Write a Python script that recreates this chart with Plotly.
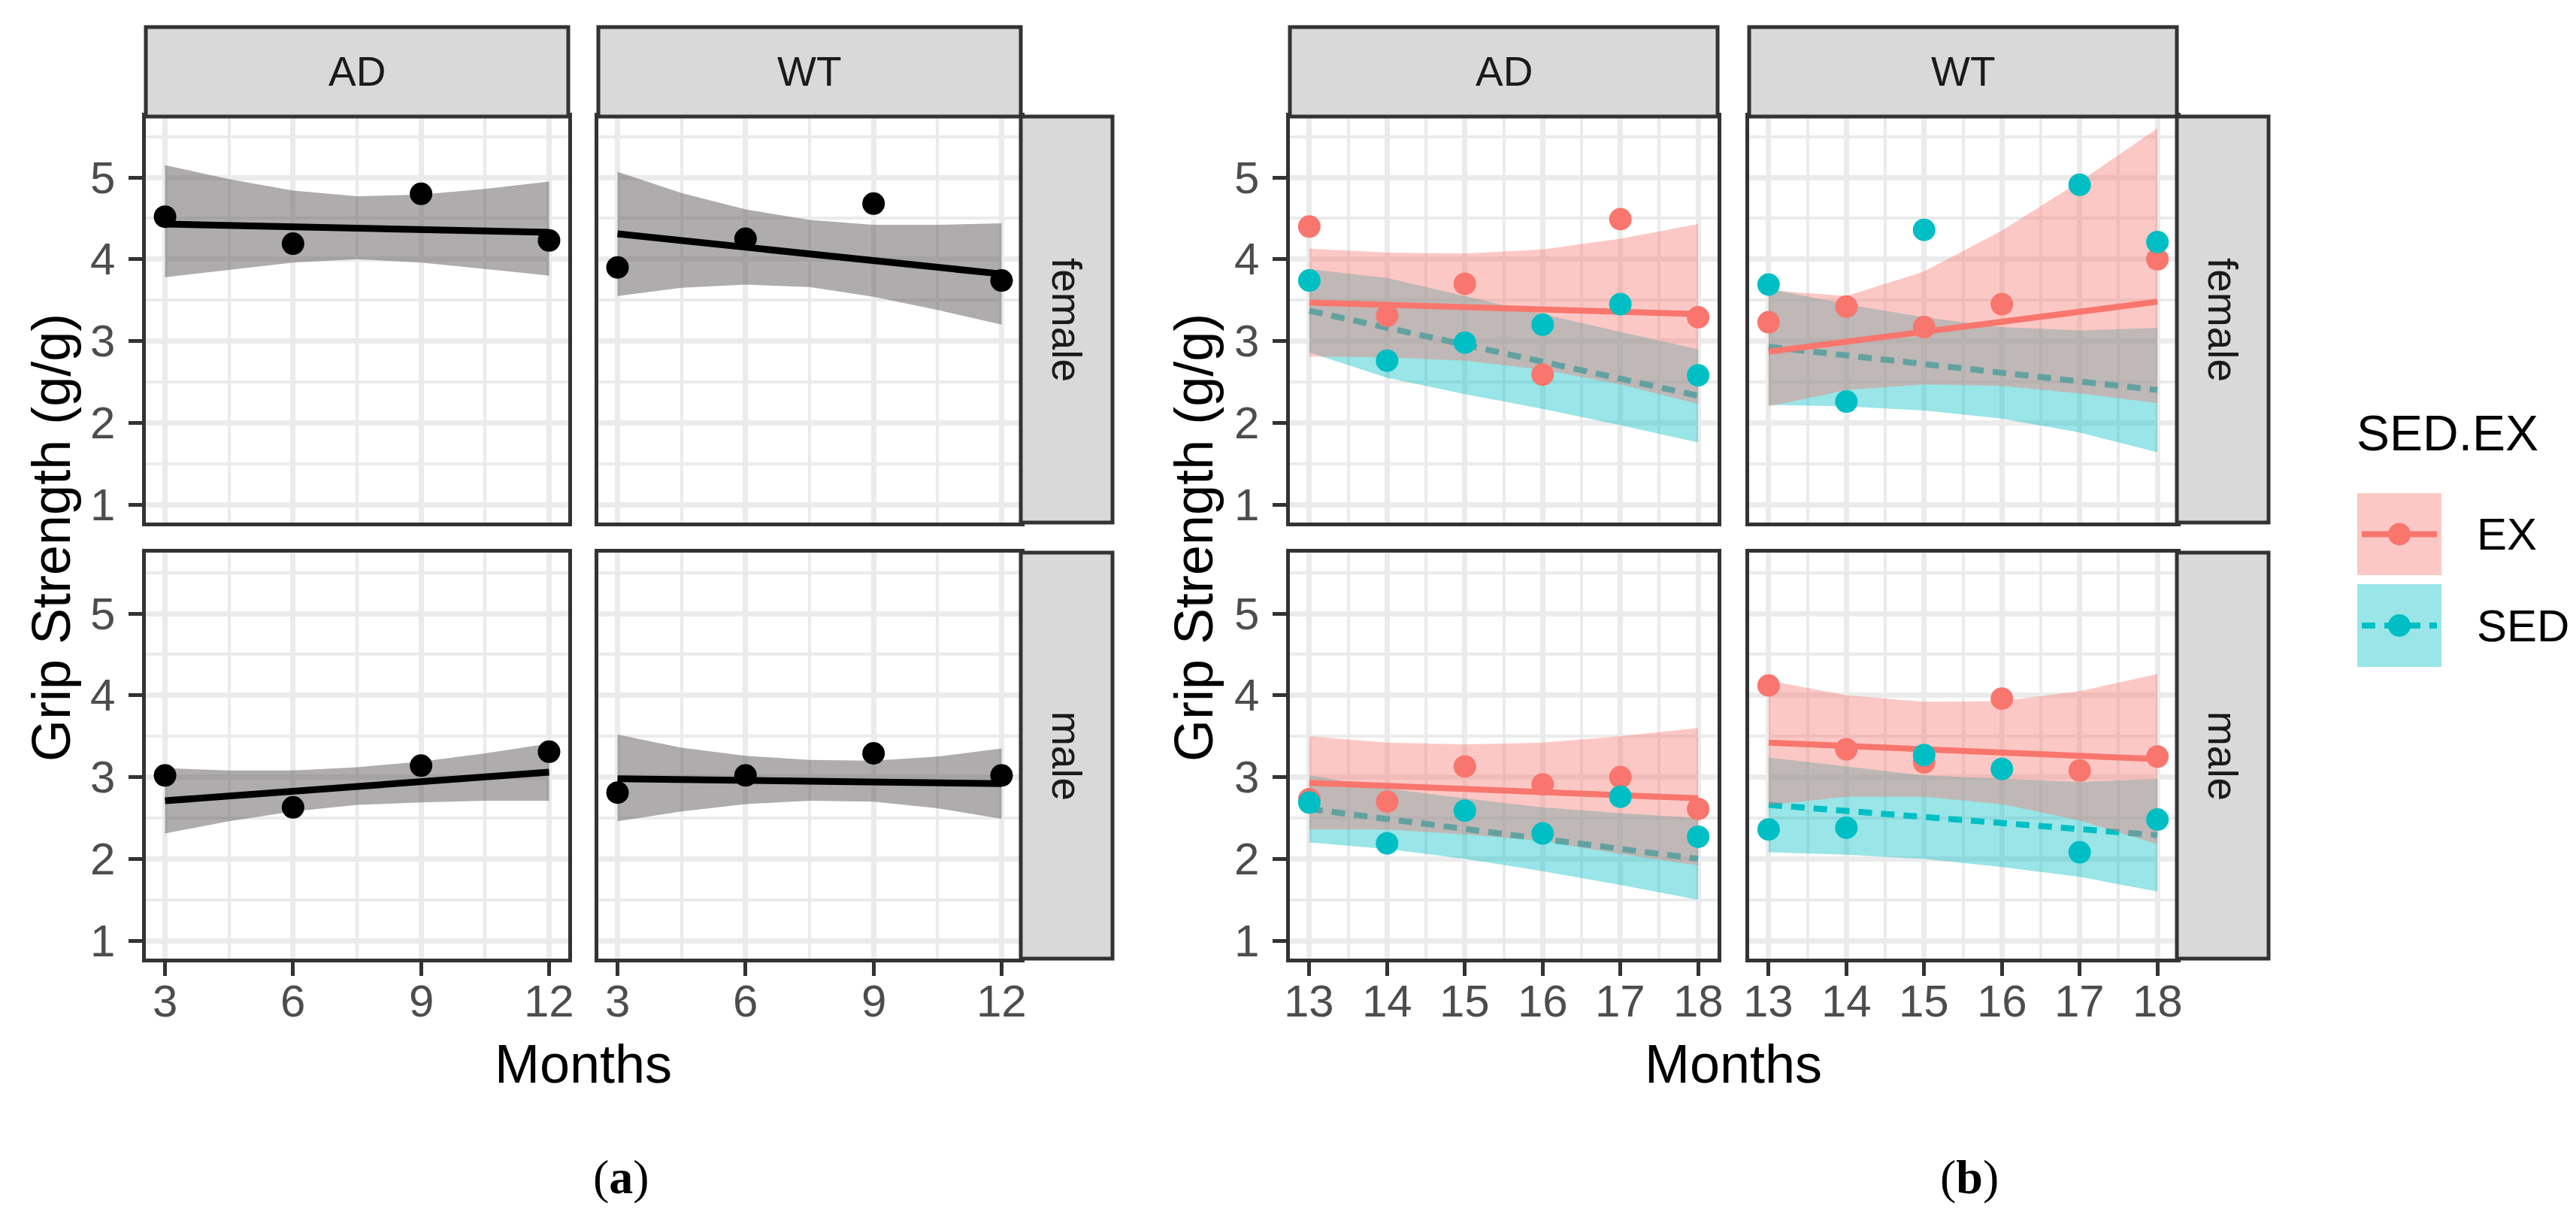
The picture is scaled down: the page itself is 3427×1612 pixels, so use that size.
import plotly.graph_objects as go

W, H = 3427, 1612

# ---------------- data: panel (a) ----------------
months_a = [3, 6, 9, 12]
band_x_a = [3, 4.5, 6, 7.5, 9, 10.5, 12]
fit_x_a = [3, 12]
ticks_x_a = [3, 6, 9, 12]

a_ad_f_pts = [4.52, 4.19, 4.80, 4.23]
a_ad_f_fit = [4.43, 4.33]
a_ad_f_hi = [5.15, 4.98, 4.84, 4.77, 4.79, 4.86, 4.95]
a_ad_f_lo = [3.78, 3.87, 3.96, 4.00, 3.96, 3.88, 3.80]

a_wt_f_pts = [3.90, 4.25, 4.68, 3.74]
a_wt_f_fit = [4.31, 3.82]
a_wt_f_hi = [5.07, 4.81, 4.61, 4.48, 4.42, 4.42, 4.44]
a_wt_f_lo = [3.55, 3.65, 3.69, 3.66, 3.54, 3.38, 3.20]

a_ad_m_pts = [3.02, 2.63, 3.14, 3.31]
a_ad_m_fit = [2.71, 3.06]
a_ad_m_hi = [3.11, 3.08, 3.08, 3.12, 3.19, 3.29, 3.41]
a_ad_m_lo = [2.31, 2.46, 2.58, 2.66, 2.69, 2.71, 2.71]

a_wt_m_pts = [2.81, 3.02, 3.29, 3.02]
a_wt_m_fit = [2.98, 2.92]
a_wt_m_hi = [3.52, 3.36, 3.26, 3.21, 3.20, 3.25, 3.35]
a_wt_m_lo = [2.46, 2.58, 2.67, 2.71, 2.70, 2.62, 2.49]

# ---------------- data: panel (b) ----------------
months_b = [13, 14, 15, 16, 17, 18]
fit_x_b = [13, 18]
ticks_x_b = [13, 14, 15, 16, 17, 18]

b_ad_f_ex = [4.40, 3.31, 3.70, 2.59, 4.49, 3.29]
b_ad_f_sed = [3.74, 2.76, 2.98, 3.20, 3.45, 2.58]
b_ad_f_ex_fit = [3.47, 3.33]
b_ad_f_sed_fit = [3.37, 2.33]
b_ad_f_ex_hi = [4.13, 4.08, 4.07, 4.12, 4.25, 4.43]
b_ad_f_ex_lo = [2.81, 2.80, 2.76, 2.65, 2.47, 2.23]
b_ad_f_sed_hi = [3.88, 3.77, 3.55, 3.33, 3.11, 2.90]
b_ad_f_sed_lo = [2.86, 2.55, 2.35, 2.17, 1.97, 1.76]

b_wt_f_ex = [3.23, 3.42, 3.17, 3.45, None, 4.00]
b_wt_f_sed = [3.69, 2.26, 4.36, None, 4.91, 4.21]
b_wt_f_ex_fit = [2.87, 3.48]
b_wt_f_sed_fit = [2.93, 2.40]
b_wt_f_ex_hi = [3.62, 3.55, 3.85, 4.35, 4.95, 5.60]
b_wt_f_ex_lo = [2.20, 2.40, 2.47, 2.45, 2.36, 2.24]
b_wt_f_sed_hi = [3.64, 3.45, 3.29, 3.17, 3.13, 3.16]
b_wt_f_sed_lo = [2.22, 2.20, 2.15, 2.05, 1.88, 1.64]

b_ad_m_ex = [2.73, 2.70, 3.13, 2.91, 3.00, 2.61]
b_ad_m_sed = [2.69, 2.19, 2.59, 2.31, 2.76, 2.27]
b_ad_m_ex_fit = [2.93, 2.74]
b_ad_m_sed_fit = [2.61, 2.00]
b_ad_m_ex_hi = [3.50, 3.42, 3.40, 3.42, 3.50, 3.60]
b_ad_m_ex_lo = [2.36, 2.36, 2.30, 2.22, 2.06, 1.92]
b_ad_m_sed_hi = [3.02, 2.86, 2.74, 2.63, 2.56, 2.50]
b_ad_m_sed_lo = [2.20, 2.12, 2.00, 1.85, 1.68, 1.50]

b_wt_m_ex = [4.12, 3.34, 3.18, 3.96, 3.08, 3.25]
b_wt_m_sed = [2.36, 2.38, 3.27, 3.10, 2.08, 2.48]
b_wt_m_ex_fit = [3.42, 3.22]
b_wt_m_sed_fit = [2.66, 2.29]
b_wt_m_ex_hi = [4.18, 4.00, 3.92, 3.93, 4.05, 4.26]
b_wt_m_ex_lo = [2.66, 2.76, 2.76, 2.67, 2.47, 2.18]
b_wt_m_sed_hi = [3.24, 3.13, 3.02, 2.98, 2.94, 2.98]
b_wt_m_sed_lo = [2.08, 2.05, 2.00, 1.90, 1.78, 1.60]

ticks_y = [1, 2, 3, 4, 5]
col_labels = ["AD", "WT"]
row_labels = ["female", "male"]
legend_labels = ["EX", "SED"]
legend_title = "SED.EX"
x_title = "Months"
y_title = "Grip Strength (g/g)"

# ---------------- styling ----------------
EX_C = "#F8766D"
SED_C = "#00BFC4"
EX_F = "rgba(248,118,109,0.4)"
SED_F = "rgba(0,191,196,0.4)"
GREY_F = "rgba(100,95,95,0.52)"
BORDER = "#333333"
GRID = "#EBEBEB"
FONT = "Liberation Sans"
TICK_FONT = dict(family=FONT, size=60, color="#4D4D4D")

# pixel boxes of panels
cols_a = [(186, 748), (788, 1350)]
cols_b = [(1708, 2277), (2319, 2888)]
rows = [(147, 687), (727, 1267)]
STRIP_TOP = 28
STRIP_W = 122
Y_RANGE = [0.78, 5.745]
X_RANGE_A = [2.55, 12.45]
X_RANGE_B = [12.75, 18.25]
XTICK_LABEL_Y = 1323
YTICK_GAP = 39


def fx(px):
    return px / W


def fy(py):
    return 1 - py / H


fig = go.Figure()
layout_axes = {}
shapes = []
annotations = []

idx = 0
for part, cols, xr, xt in (("a", cols_a, X_RANGE_A, ticks_x_a), ("b", cols_b, X_RANGE_B, ticks_x_b)):
    for ri, rbox in enumerate(rows):
        for ci, cbox in enumerate(cols):
            idx += 1
            xname = "xaxis" if idx == 1 else f"xaxis{idx}"
            yname = "yaxis" if idx == 1 else f"yaxis{idx}"
            xa = "x" if idx == 1 else f"x{idx}"
            ya = "y" if idx == 1 else f"y{idx}"
            bottom = ri == 1
            left = ci == 0
            minor_dx = 1.5 if part == "a" else 0.5
            layout_axes[xname] = dict(
                domain=[fx(cbox[0]), fx(cbox[1])], range=xr, anchor=ya,
                tickvals=xt,
                showgrid=True, gridcolor=GRID, gridwidth=7,
                minor=dict(tick0=xt[0], dtick=minor_dx, showgrid=True, gridcolor=GRID, gridwidth=3.5, ticks=""),
                zeroline=False, showline=True, mirror=True, linecolor=BORDER, linewidth=5,
                ticks="outside" if bottom else "", ticklen=18, tickwidth=5, tickcolor=BORDER,
                showticklabels=False, fixedrange=True,
            )
            layout_axes[yname] = dict(
                domain=[fy(rbox[1]), fy(rbox[0])], range=Y_RANGE, anchor=xa,
                tickvals=ticks_y,
                showgrid=True, gridcolor=GRID, gridwidth=7,
                minor=dict(tick0=0.5, dtick=1, showgrid=True, gridcolor=GRID, gridwidth=3.5, ticks=""),
                zeroline=False, showline=True, mirror=True, linecolor=BORDER, linewidth=5,
                ticks="outside" if left else "", ticklen=18, tickwidth=5, tickcolor=BORDER,
                showticklabels=False, fixedrange=True,
            )
            # tick labels as text placed through the axes' own scales
            if bottom:
                for v in xt:
                    annotations.append(dict(x=v, y=fy(XTICK_LABEL_Y), xref=xa, yref="paper", text=str(v),
                                            showarrow=False, font=TICK_FONT, xanchor="center", yanchor="middle"))
            if left:
                for v in ticks_y:
                    annotations.append(dict(x=fx(cbox[0] - YTICK_GAP), y=v, xref="paper", yref=ya, text=str(v),
                                            showarrow=False, font=TICK_FONT, xanchor="right", yanchor="middle"))
            # top strips
            if ri == 0:
                shapes.append(dict(type="rect", xref="paper", yref="paper",
                                   x0=fx(cbox[0]), x1=fx(cbox[1]), y0=fy(rbox[0]), y1=fy(STRIP_TOP),
                                   fillcolor="#D9D9D9", line=dict(color=BORDER, width=5)))
                annotations.append(dict(x=fx((cbox[0] + cbox[1]) / 2), y=fy((STRIP_TOP + rbox[0]) / 2),
                                        xref="paper", yref="paper", text=col_labels[ci], showarrow=False,
                                        font=dict(family=FONT, size=55, color="#1A1A1A"),
                                        xanchor="center", yanchor="middle"))
            # right strips
            if ci == 1:
                shapes.append(dict(type="rect", xref="paper", yref="paper",
                                   x0=fx(cbox[1]), x1=fx(cbox[1] + STRIP_W), y0=fy(rbox[1]), y1=fy(rbox[0]),
                                   fillcolor="#D9D9D9", line=dict(color=BORDER, width=5)))
                annotations.append(dict(x=fx(cbox[1] + STRIP_W / 2), y=fy((rbox[0] + rbox[1]) / 2),
                                        xref="paper", yref="paper", text=row_labels[ri], showarrow=False,
                                        textangle=90, font=dict(family=FONT, size=55, color="#1A1A1A"),
                                        xanchor="center", yanchor="middle"))


def ax(i):
    return ("x" if i == 1 else f"x{i}", "y" if i == 1 else f"y{i}")


def band(i, bx, hi, lo, fill):
    xa, ya = ax(i)
    fig.add_trace(go.Scatter(x=list(bx) + list(bx)[::-1], y=list(hi) + list(lo)[::-1],
                             fill="toself", fillcolor=fill, line=dict(width=0), mode="lines",
                             hoverinfo="skip", showlegend=False, xaxis=xa, yaxis=ya))


def fit(i, fxs, fys, color, dash="solid", width=8):
    xa, ya = ax(i)
    fig.add_trace(go.Scatter(x=fxs, y=fys, mode="lines", line=dict(color=color, width=width, dash=dash),
                             hoverinfo="skip", showlegend=False, xaxis=xa, yaxis=ya))


def pts(i, xs, ys, color):
    xa, ya = ax(i)
    fig.add_trace(go.Scatter(x=xs, y=ys, mode="markers", marker=dict(color=color, size=30, line=dict(width=0)),
                             showlegend=False, xaxis=xa, yaxis=ya))


# panel (a): idx 1 AD-f, 2 WT-f, 3 AD-m, 4 WT-m
a_sets = [
    (1, a_ad_f_pts, a_ad_f_fit, a_ad_f_hi, a_ad_f_lo),
    (2, a_wt_f_pts, a_wt_f_fit, a_wt_f_hi, a_wt_f_lo),
    (3, a_ad_m_pts, a_ad_m_fit, a_ad_m_hi, a_ad_m_lo),
    (4, a_wt_m_pts, a_wt_m_fit, a_wt_m_hi, a_wt_m_lo),
]
for i, p, f, hi, lo in a_sets:
    band(i, band_x_a, hi, lo, GREY_F)
    fit(i, fit_x_a, f, "#000000", width=9)
    pts(i, months_a, p, "#000000")

DASH = "18px,12px"
b_sets = [
    (5, b_ad_f_ex, b_ad_f_sed, b_ad_f_ex_fit, b_ad_f_sed_fit, b_ad_f_ex_hi, b_ad_f_ex_lo, b_ad_f_sed_hi, b_ad_f_sed_lo),
    (6, b_wt_f_ex, b_wt_f_sed, b_wt_f_ex_fit, b_wt_f_sed_fit, b_wt_f_ex_hi, b_wt_f_ex_lo, b_wt_f_sed_hi, b_wt_f_sed_lo),
    (7, b_ad_m_ex, b_ad_m_sed, b_ad_m_ex_fit, b_ad_m_sed_fit, b_ad_m_ex_hi, b_ad_m_ex_lo, b_ad_m_sed_hi, b_ad_m_sed_lo),
    (8, b_wt_m_ex, b_wt_m_sed, b_wt_m_ex_fit, b_wt_m_sed_fit, b_wt_m_ex_hi, b_wt_m_ex_lo, b_wt_m_sed_hi, b_wt_m_sed_lo),
]
for i, ex, sed, exf, sedf, exh, exl, sedh, sedl in b_sets:
    band(i, months_b, sedh, sedl, SED_F)
    fit(i, fit_x_b, sedf, SED_C, dash=DASH)
    band(i, months_b, exh, exl, EX_F)
    fit(i, fit_x_b, exf, EX_C)
    pts(i, months_b, ex, EX_C)
    pts(i, months_b, sed, SED_C)

# axis titles
for cx in ((cols_a[0][0] + cols_a[1][1]) / 2, (cols_b[0][0] + cols_b[1][1]) / 2):
    annotations.append(dict(x=fx(cx), y=fy(1407), xref="paper", yref="paper", text=x_title, showarrow=False,
                            font=dict(family=FONT, size=72, color="#000000"), xanchor="center", yanchor="middle"))
for tx in (60, 1580):
    annotations.append(dict(x=fx(tx), y=fy((rows[0][0] + rows[1][1]) / 2), xref="paper", yref="paper",
                            text=y_title, showarrow=False, textangle=-90,
                            font=dict(family=FONT, size=72, color="#000000"), xanchor="center", yanchor="middle"))

# sub-figure labels
for lx, lab in ((818, "a"), (2612, "b")):
    annotations.append(dict(x=fx(lx), y=fy(1557), xref="paper", yref="paper", text=f"(<b>{lab}</b>)",
                            showarrow=False, font=dict(family="Liberation Serif", size=64, color="#000000"),
                            xanchor="center", yanchor="middle"))

# legend (drawn manually)
annotations.append(dict(x=fx(3125), y=fy(568), xref="paper", yref="paper", text=legend_title, showarrow=False,
                        font=dict(family=FONT, size=66, color="#000000"), xanchor="left", yanchor="middle"))
key_rows = [(648, 757, EX_F, EX_C, "solid"), (769, 879, SED_F, SED_C, DASH)]
for (k0, k1, fillc, colc, dsh), lab in zip(key_rows, legend_labels):
    shapes.append(dict(type="rect", xref="paper", yref="paper", x0=fx(3128), x1=fx(3240), y0=fy(k1), y1=fy(k0),
                       fillcolor=fillc, line=dict(width=0), layer="above"))
    kc = (k0 + k1) / 2
    shapes.append(dict(type="line", xref="paper", yref="paper", x0=fx(3134), x1=fx(3234), y0=fy(kc), y1=fy(kc),
                       line=dict(color=colc, width=8, dash=dsh), layer="above"))
    shapes.append(dict(type="circle", xref="paper", yref="paper", x0=fx(3169), x1=fx(3199),
                       y0=fy(kc + 15), y1=fy(kc - 15), fillcolor=colc, line=dict(width=0), layer="above"))
    annotations.append(dict(x=fx(3285), y=fy(kc), xref="paper", yref="paper", text=lab, showarrow=False,
                            font=dict(family=FONT, size=60, color="#000000"), xanchor="left", yanchor="middle"))

fig.update_layout(
    width=W, height=H, margin=dict(l=0, r=0, t=0, b=0),
    paper_bgcolor="white", plot_bgcolor="white",
    showlegend=False, shapes=shapes, annotations=annotations,
    **layout_axes,
)

fig.write_html("out.html")
